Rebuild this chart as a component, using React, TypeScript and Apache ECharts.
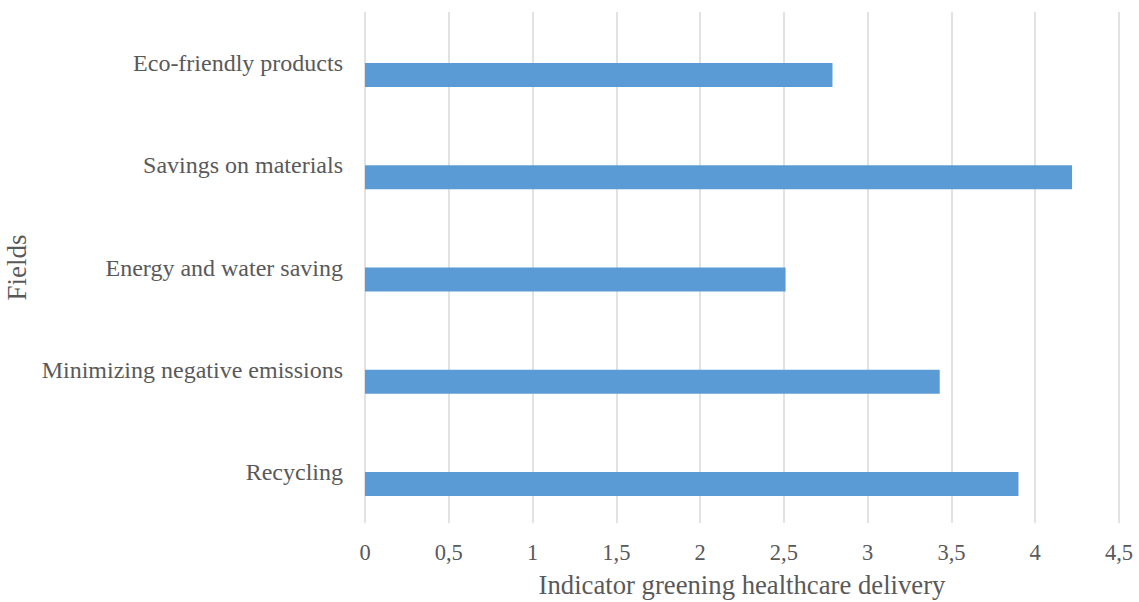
import React, { useEffect, useRef } from "react";
import * as echarts from "echarts";

const categories = [
  "Recycling",
  "Minimizing negative emissions",
  "Energy and water saving",
  "Savings on materials",
  "Eco-friendly products",
];
const values = [3.9, 3.43, 2.51, 4.22, 2.79];
const emptyValues = [null, null, null, null, null];
const xTitle = "Indicator greening healthcare delivery";
const yTitle = "Fields";

export default function App() {
  const ref = useRef<HTMLDivElement>(null);
  useEffect(() => {
    const chart = echarts.init(ref.current!, null, { renderer: "svg" });
    const font = "'Liberation Serif', 'Times New Roman', serif";
    chart.setOption({
      animation: false,
      grid: {
        left: 365,
        right: 20,
        top: 12,
        bottom: 79,
        containLabel: false,
        outerBoundsMode: "none",
      },
      xAxis: {
        type: "value",
        min: 0,
        max: 4.5,
        interval: 0.5,
        axisLine: { show: false },
        axisTick: { show: false },
        splitLine: { show: true, lineStyle: { color: "#d9d9d9", width: 1.5 } },
        axisLabel: {
          color: "#595959",
          fontFamily: font,
          fontSize: 22.5,
          margin: 18,
          formatter: (v: number) => String(v).replace(".", ","),
        },
        name: xTitle,
        nameLocation: "middle",
        nameGap: 48,
        nameTextStyle: { color: "#595959", fontFamily: font, fontSize: 26.7 },
      },
      yAxis: {
        type: "category",
        data: categories,
        axisLine: { show: false },
        axisTick: { show: false },
        splitLine: { show: false },
        axisLabel: {
          color: "#595959",
          fontFamily: font,
          fontSize: 24,
          margin: 22,
        },
        name: yTitle,
        nameLocation: "middle",
        nameGap: 334,
        nameRotate: 90,
        nameTextStyle: { color: "#595959", fontFamily: font, fontSize: 27 },
      },
      series: [
        {
          type: "bar",
          data: emptyValues,
          barWidth: 24,
          barGap: "0%",
          itemStyle: { color: "#5b9bd5" },
        },
        {
          type: "bar",
          data: values,
          barWidth: 24,
          barGap: "0%",
          itemStyle: { color: "#5b9bd5" },
        },
      ],
    });
    return () => chart.dispose();
  }, []);
  return (
    <div
      ref={ref}
      style={{ position: "absolute", left: 0, top: 0, width: 1139, height: 602 }}
    />
  );
}
